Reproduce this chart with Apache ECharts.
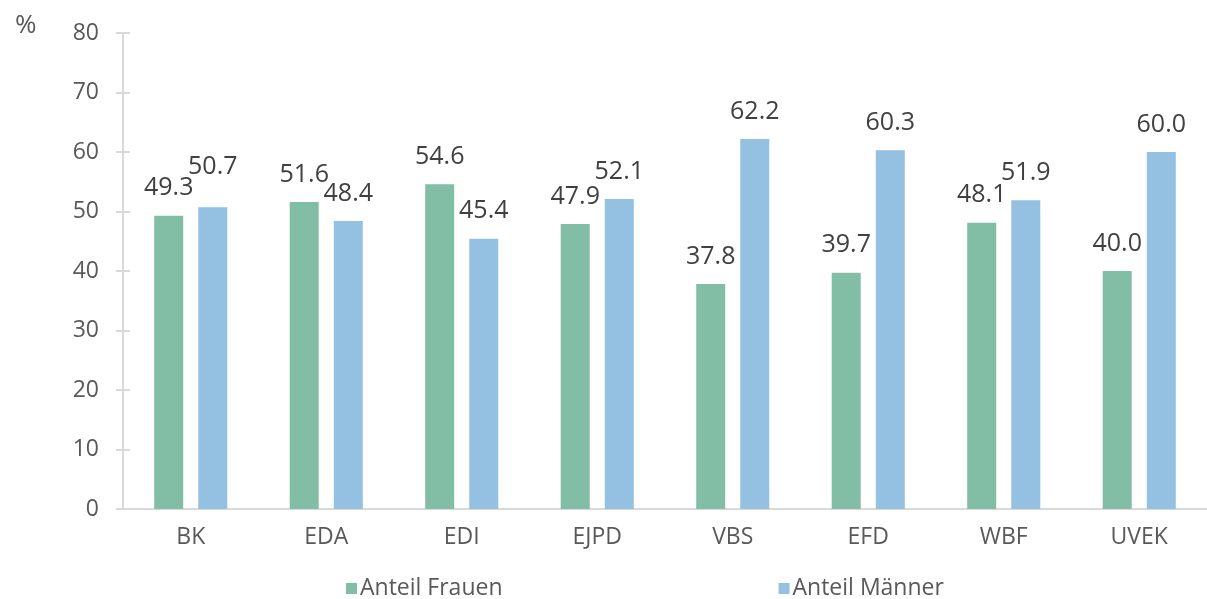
<!DOCTYPE html>
<html>
<head>
<meta charset="utf-8">
<script src="https://cdn.jsdelivr.net/npm/echarts@6/dist/echarts.min.js"></script>
<style>
html,body{margin:0;padding:0;background:#fff;}
#chart{width:1207px;height:599px;}
</style>
</head>
<body>
<div id="chart"></div>
<script>
const categories = ['BK', 'EDA', 'EDI', 'EJPD', 'VBS', 'EFD', 'WBF', 'UVEK'];
const frauen = [49.3, 51.6, 54.6, 47.9, 37.8, 39.7, 48.1, 40.0];
const maenner = [50.7, 48.4, 45.4, 52.1, 62.2, 60.3, 51.9, 60.0];
const seriesNames = ['Anteil Frauen', 'Anteil Männer'];
const yTicks = { min: 0, max: 80, interval: 10 };

const FONT = 'Open Sans';
const GREEN = '#82BEA5';
const BLUE = '#94C0E2';
const AXIS = '#d9d9d9';

const chart = echarts.init(document.getElementById('chart'));

function labelCfg() {
  return {
    show: true, position: 'top', distance: 15,
    color: '#404040', fontFamily: FONT, fontSize: 25, lineHeight: 25,
    formatter: p => p.value.toFixed(1)
  };
}

const maennerData = maenner.map((v, i) => i === 0 ? { value: v, label: { offset: [0, -13] } } : v);

chart.setOption({
  animation: false,
  backgroundColor: '#fff',
  title: {
    text: '%', left: 10, top: 8,
    textStyle: { color: '#595959', fontFamily: FONT, fontSize: 26, fontWeight: 'normal' }
  },
  grid: { left: 123, right: 0, top: 33, bottom: 90, containLabel: false },
  legend: {
    data: seriesNames,
    left: 341, top: 572,
    itemWidth: 11, itemHeight: 11, itemGap: 276,
    icon: 'rect',
    textStyle: { color: '#595959', fontFamily: FONT, fontSize: 23, padding: [0, 0, 0, -2] }
  },
  xAxis: {
    type: 'category', data: categories,
    axisLine: { show: true, lineStyle: { color: AXIS, width: 2 } },
    axisTick: { show: false },
    axisLabel: { color: '#595959', fontFamily: FONT, fontSize: 23, margin: 17 }
  },
  yAxis: [{
    type: 'value', min: yTicks.min, max: yTicks.max, interval: yTicks.interval,
    axisLine: { show: true, lineStyle: { color: AXIS, width: 2 } },
    axisTick: { show: true, length: 7, lineStyle: { color: AXIS, width: 2 } },
    splitLine: { show: false },
    axisLabel: { color: '#595959', fontFamily: FONT, fontSize: 23, margin: 24 }
  }, {
    type: 'value', position: 'left', min: yTicks.min, max: yTicks.max, interval: yTicks.interval,
    axisLine: { show: false },
    axisTick: { show: true, inside: true, length: 7, lineStyle: { color: AXIS, width: 2 } },
    splitLine: { show: false },
    axisLabel: { show: false }
  }],
  series: [{
    name: seriesNames[0], type: 'bar', data: frauen,
    barWidth: 29, barGap: '52%',
    itemStyle: { color: GREEN },
    label: labelCfg()
  }, {
    name: seriesNames[1], type: 'bar', data: maennerData,
    barWidth: 29, barGap: '52%',
    itemStyle: { color: BLUE },
    label: labelCfg()
  }]
});
</script>
</body>
</html>
